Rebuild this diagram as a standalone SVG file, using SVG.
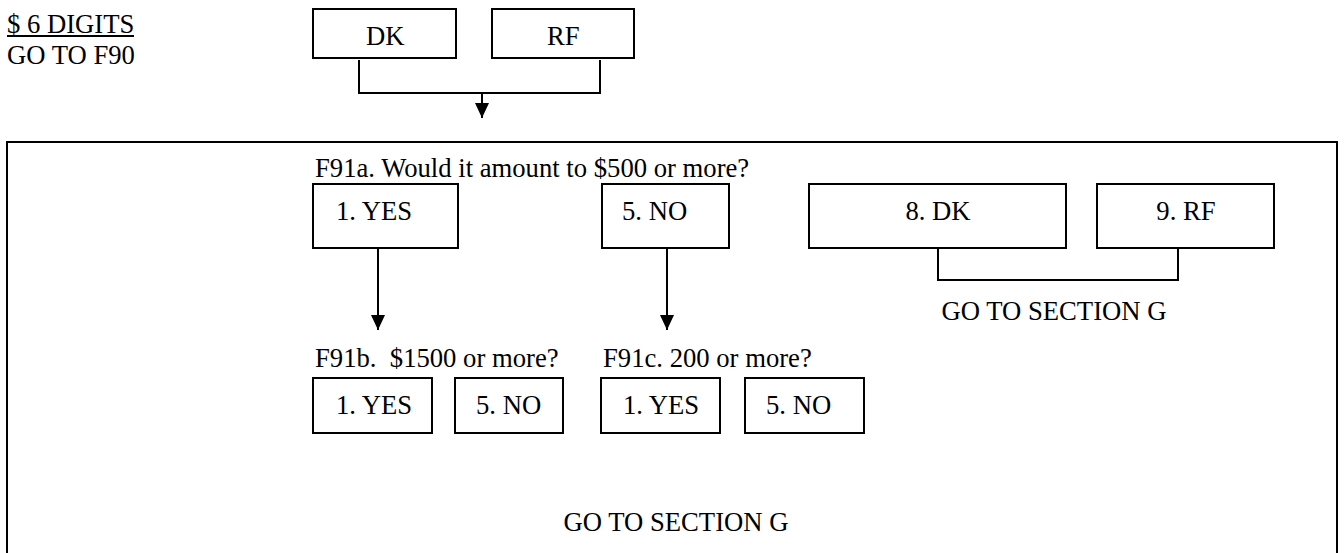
<svg xmlns="http://www.w3.org/2000/svg" width="1344" height="553" viewBox="0 0 1344 553">
<defs>
<style>
text{font-family:"Liberation Serif","Times New Roman",serif;font-size:26.67px;fill:#000}
.box{fill:#fff;stroke:#000;stroke-width:2}
.ln{fill:none;stroke:#000;stroke-width:2}
.mid{text-anchor:middle}
.pre{white-space:pre}
</style>
<marker id="ah" viewBox="0 0 15 14" refX="15" refY="7" markerWidth="15" markerHeight="14" markerUnits="userSpaceOnUse" orient="auto">
<path d="M0,0 L15,7 L0,14 Z" fill="#000"/>
</marker>
</defs>
<rect width="1344" height="553" fill="#fff"/>
<g id="note">
<text x="7" y="33">$ 6 DIGITS</text>
<line x1="7" y1="36" x2="134" y2="36" stroke="#000" stroke-width="2"/>
<text x="7" y="64">GO TO F90</text>
</g>
<g id="dk"><rect class="box" x="313" y="9" width="143" height="49"/><text x="366" y="45">DK</text></g>
<g id="rf"><rect class="box" x="492" y="9" width="142" height="49"/><text x="547" y="45">RF</text></g>
<g id="section"><rect class="ln" x="7" y="142" width="1330" height="420"/></g>
<g id="f91a"><text x="315" y="177">F91a. Would it amount to $500 or more?</text></g>
<g id="a_yes"><rect class="box" x="313" y="184" width="145" height="64"/><text x="336" y="220">1. YES</text></g>
<g id="a_no"><rect class="box" x="602" y="184" width="127" height="64"/><text x="622" y="220">5. NO</text></g>
<g id="a_dk"><rect class="box" x="809" y="184" width="257" height="64"/><text class="mid" x="938" y="220">8. DK</text></g>
<g id="a_rf"><rect class="box" x="1097" y="184" width="177" height="64"/><text class="mid" x="1186" y="220">9. RF</text></g>
<g id="goto1"><text class="mid" x="1054" y="320">GO TO SECTION G</text></g>
<g id="f91b"><text class="pre" x="315" y="367" xml:space="preserve">F91b.  $1500 or more?</text></g>
<g id="b_yes"><rect class="box" x="313" y="378" width="119" height="55"/><text x="336" y="414">1. YES</text></g>
<g id="b_no"><rect class="box" x="455" y="378" width="108" height="55"/><text x="476" y="414">5. NO</text></g>
<g id="f91c"><text x="603" y="367">F91c. 200 or more?</text></g>
<g id="c_yes"><rect class="box" x="601" y="378" width="119" height="55"/><text x="623" y="414">1. YES</text></g>
<g id="c_no"><rect class="box" x="745" y="378" width="119" height="55"/><text x="766" y="414">5. NO</text></g>
<g id="goto2"><text class="mid" x="676" y="531">GO TO SECTION G</text></g>
<g id="connectors">
<polyline class="ln" points="359,60 359,93 600,93 600,60"/>
<line class="ln" x1="482" y1="93" x2="482" y2="118" marker-end="url(#ah)"/>
<line class="ln" x1="378" y1="248" x2="378" y2="330" marker-end="url(#ah)"/>
<line class="ln" x1="667" y1="248" x2="667" y2="330" marker-end="url(#ah)"/>
<polyline class="ln" points="938,248 938,280 1178,280 1178,248"/>
</g>
</svg>
